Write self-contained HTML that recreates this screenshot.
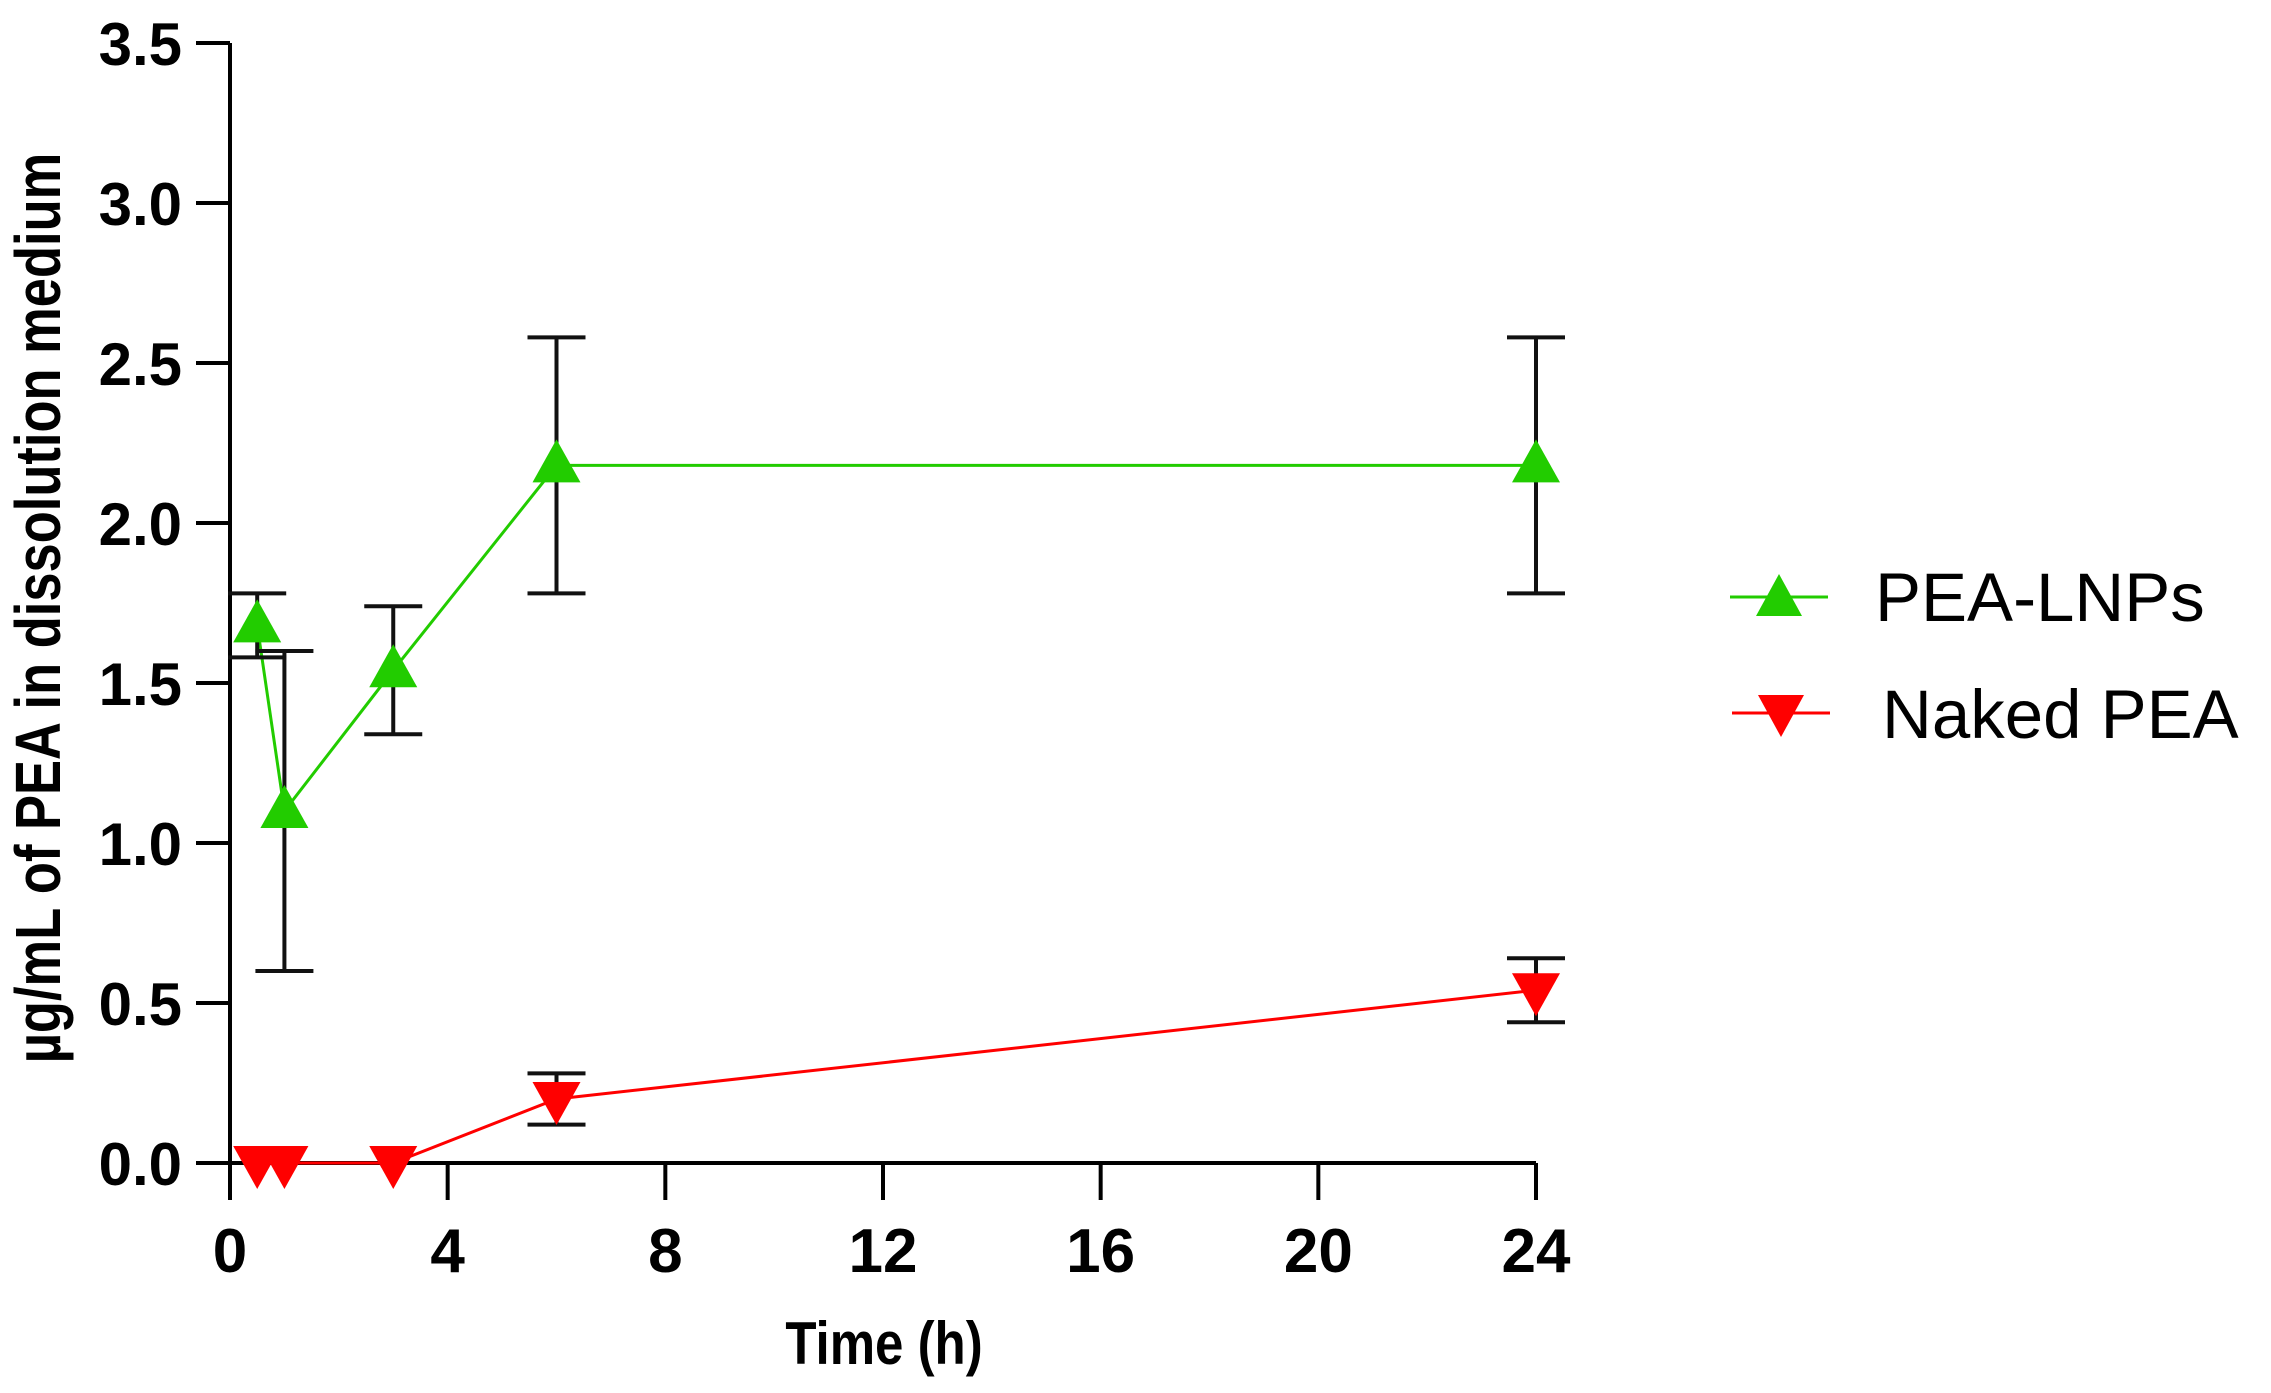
<!DOCTYPE html>
<html><head><meta charset="utf-8"><style>
html,body{margin:0;padding:0;background:#fff;}
svg{display:block;font-family:"Liberation Sans",Arial,sans-serif;}
</style></head><body>
<svg id="chart" width="2271" height="1393" viewBox="0 0 2271 1393" xmlns="http://www.w3.org/2000/svg">
<g id="axes"></g>
<g id="series"></g>
<text transform="translate(60,608) rotate(-90) scale(0.82,1)" text-anchor="middle" font-size="64" font-weight="bold" fill="#000">µg/mL of PEA in dissolution medium</text>
<text x="884" y="1364" transform="translate(884,0) scale(0.85,1) translate(-884,0)" text-anchor="middle" font-size="60" font-weight="bold" fill="#000">Time (h)</text>
<g>
<g>
<line x1="1730" y1="597" x2="1828" y2="597" stroke="#22cc00" stroke-width="3"/>
<polygon points="1779,574 1802,616 1756,616" fill="#22cc00"/>
<text x="1875" y="621" font-size="69" fill="#000">PEA-LNPs</text>
</g>
<g>
<line x1="1732" y1="713" x2="1830" y2="713" stroke="#ff0000" stroke-width="3"/>
<polygon points="1758,695 1804,695 1781,737" fill="#ff0000"/>
<text x="1882" y="738" font-size="69" fill="#000">Naked PEA</text>
</g>
</g>
</svg>
<script>
const times = [0.5, 1, 3, 6, 24];
const lnpMean = [1.68, 1.10, 1.54, 2.18, 2.18];
const lnpErr = [0.10, 0.50, 0.20, 0.40, 0.40];
const nakedMean = [0, 0, 0, 0.20, 0.54];
const nakedErr = [0, 0, 0, 0.08, 0.10];
const yTicks = [0, 0.5, 1.0, 1.5, 2.0, 2.5, 3.0, 3.5];
const yTickLabels = ["0.0","0.5","1.0","1.5","2.0","2.5","3.0","3.5"];
const xTicks = [0, 4, 8, 12, 16, 20, 24];
const xTickLabels = ["0","4","8","12","16","20","24"];

const NS = "http://www.w3.org/2000/svg";
const X0 = 230, X1 = 1536, Y0 = 1163, Y1 = 43;
function sx(t){ return X0 + (X1 - X0) * t / 24; }
function sy(v){ return Y0 - (Y0 - Y1) * v / 3.5; }
function mk(tag, attrs, parent){
  const e = document.createElementNS(NS, tag);
  for (const k in attrs) e.setAttribute(k, attrs[k]);
  parent.appendChild(e);
  return e;
}
const axes = document.getElementById('axes');
const ser = document.getElementById('series');

let el = mk('line', {x1:X0, y1:Y1, x2:X0, y2:1200, stroke:'#000', 'stroke-width':4}, axes);


el = mk('line', {x1:196, y1:Y0, x2:X1, y2:Y0, stroke:'#000', 'stroke-width':4}, axes);



yTicks.forEach((v, i) => {
  const t = mk('line', {x1:196, y1:sy(v), x2:X0, y2:sy(v), stroke:'#000', 'stroke-width':4}, axes);
  
  
  const l = mk('text', {x:182, y:sy(v)+22, 'text-anchor':'end', 'font-size':60, 'font-weight':'bold', fill:'#000'}, axes);
  l.textContent = yTickLabels[i];
  
  
});
xTicks.forEach((v, i) => {
  const t = mk('line', {x1:sx(v), y1:Y0, x2:sx(v), y2:1200, stroke:'#000', 'stroke-width':4}, axes);
  
  
  const l = mk('text', {x:sx(v), y:1272, 'text-anchor':'middle', 'font-size':62, 'font-weight':'bold', fill:'#000'}, axes);
  l.textContent = xTickLabels[i];
  
  
});

function drawSeries(mean, err, color, up, name){
  const g = mk('g', {}, ser);
  
  
  const pts = times.map((t, i) => sx(t) + ',' + sy(mean[i])).join(' ');
  const pl = mk('polyline', {points:pts, fill:'none', stroke:color, 'stroke-width':3}, g);
  
  
  times.forEach((t, i) => {
    const x = sx(t), y = sy(mean[i]);
    if (err[i] > 0) {
      const eb = mk('path', {d:`M${x},${sy(mean[i]+err[i])}V${sy(mean[i]-err[i])}M${x-29},${sy(mean[i]+err[i])}H${x+29}M${x-29},${sy(mean[i]-err[i])}H${x+29}`, stroke:'#111', 'stroke-width':4, fill:'none'}, g);
      
      
    }
    const p = up ? `${x},${y-26} ${x+24},${y+17} ${x-24},${y+17}` : `${x-24},${y-17} ${x+24},${y-17} ${x},${y+26}`;
    const m = mk('polygon', {points:p, fill:color}, g);
    
    
  });
}
drawSeries(lnpMean, lnpErr, '#22cc00', true, 'pea-lnps');
drawSeries(nakedMean, nakedErr, '#ff0000', false, 'naked-pea');
</script>
</body></html>
